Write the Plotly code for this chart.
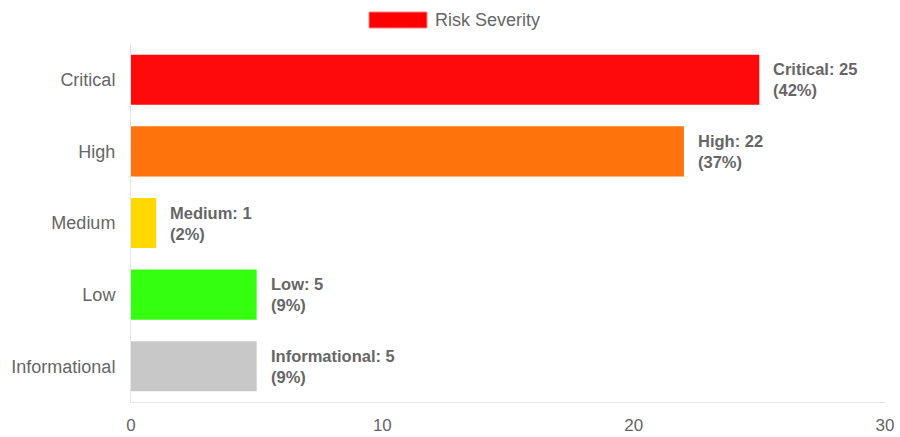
import plotly.graph_objects as go

categories = ["Critical", "High", "Medium", "Low", "Informational"]
counts = [25, 22, 1, 5, 5]
percents = [42, 37, 2, 9, 9]
colors = ["#FF0A0A", "#FF730D", "#FFD800", "#33FF0F", "#C8C8C8"]
x_ticks = [0, 10, 20, 30]
legend_label = "Risk Severity"

FONT = "Liberation Sans, Arial, sans-serif"

fig = go.Figure()
fig.add_trace(go.Bar(
    x=counts, y=categories, orientation="h",
    marker=dict(color=colors, line=dict(width=0)),
    showlegend=False, hoverinfo="skip",
))

for c, v, p in zip(categories, counts, percents):
    fig.add_annotation(
        x=v, y=c, xref="x", yref="y",
        text=f"<b>{c}: {v}<br>({p}%)</b>",
        showarrow=False, xanchor="left", yanchor="middle", align="left",
        xshift=12,
        font=dict(family=FONT, size=16.5, color="#666666"),
    )

# legend swatch + label
fig.add_shape(type="rect", xref="paper", yref="paper",
              x0=(369 - 131) / 754, x1=(427 - 131) / 754,
              y0=1 + (44 - 28) / 358, y1=1 + (44 - 12) / 358,
              fillcolor="#FF0000", line=dict(color="#FF8080", width=1))
fig.add_annotation(xref="paper", yref="paper",
                   x=(433 - 131) / 754, y=1 + (44 - 20) / 358,
                   text=legend_label, showarrow=False, xanchor="left", yanchor="middle",
                   font=dict(family=FONT, size=18, color="#666666"))

fig.update_layout(
    width=900, height=437,
    margin=dict(l=131, r=15, t=44, b=35),
    paper_bgcolor="white", plot_bgcolor="white",
    bargap=0.3,
    font=dict(family=FONT, color="#666666", size=18),
    xaxis=dict(range=[0, 30], tickvals=x_ticks, showgrid=False, zeroline=False,
               showline=True, linecolor="#E5E5E5", linewidth=1, automargin=False,
               ticks="", ticklabelstandoff=8, tickfont=dict(size=17, color="#666666")),
    yaxis=dict(autorange="reversed", showgrid=False, zeroline=False,
               showline=True, linecolor="#E5E5E5", linewidth=1, automargin=False,
               ticks="", ticklabelstandoff=11, tickfont=dict(size=18, color="#666666")),
)

fig.write_html("out.html")
